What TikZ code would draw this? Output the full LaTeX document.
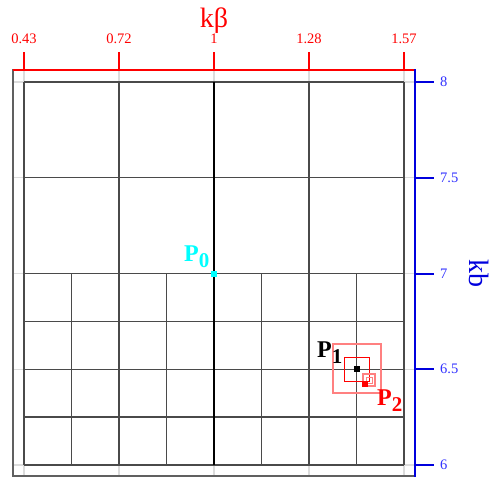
\documentclass[tikz,border=0pt]{standalone}
\usepackage{fontspec}
\setmainfont{Liberation Serif}
\definecolor{gridlight}{HTML}{DCDCDC}
\definecolor{cellline}{HTML}{4A4A4A}
\definecolor{framegrey}{HTML}{606060}
\definecolor{axred}{HTML}{FF0000}
\definecolor{axblue}{HTML}{0000DD}
\definecolor{tickblue}{HTML}{3030FF}
\definecolor{pinkbox}{HTML}{FF8080}
\definecolor{aqua}{RGB}{0,255,255}
\tikzset{
  lightgrid/.style={gridlight, line width=1.2pt},
  cell/.style={cellline, line width=1.4pt},
  redaxis/.style={axred, line width=2pt},
  blueaxis/.style={axblue, line width=2pt},
  redlbl/.style={text=axred, font=\fontsize{14.5}{14.5}\selectfont, inner sep=0pt, anchor=base},
  bluelbl/.style={text=tickblue, font=\fontsize{14.5}{14.5}\selectfont, inner sep=0pt, anchor=west},
  ptlbl/.style={font=\fontsize{24}{24}\selectfont\bfseries, inner sep=0pt, anchor=base west},
  pt/.style={minimum size=6pt, inner sep=0pt, draw=none}
}
\newcommand{\plabel}[1]{P\raisebox{-6pt}{\fontsize{21}{21}\selectfont #1}}
\begin{document}
\begin{tikzpicture}[x=1pt,y=-1pt]
\useasboundingbox (0,0) rectangle (496,483);
% light gridlines at the ticks
\foreach \x in {24,119,214,309,404} \draw[lightgrid] (\x,70) -- (\x,476);
\foreach \y in {82,177.75,273.5,369.25,465} \draw[lightgrid] (13,\y) -- (415,\y);
% frame
\draw[framegrey, line width=1.5pt] (13,70) rectangle (415,476);
% cells
\foreach \y in {82,177.75,273.5,321.375,369.25,417.125,465} \draw[cell] (24,\y) -- (404,\y);
\foreach \x in {24,119,309,404} \draw[cell] (\x,82) -- (\x,465);
\foreach \x in {71.5,166.5,261.5,356.5} \draw[cell] (\x,273.5) -- (\x,465);
\draw[black, line width=1.1pt] (214,82) -- (214,465);
% top axis
\draw[redaxis] (13,70) -- (416,70);
\foreach \x/\l [count=\i] in {24/0.43,119/0.72,214/1,309/1.28,404/1.57} {
  \draw[redaxis] (\x,70) -- (\x,52);
  \node[redlbl] (tl\i) at (\x,43) {\l};
}
\node[text=axred, font=\fontsize{28}{28}\selectfont, inner sep=0pt, anchor=base] (xtitle) at (214,27) {kβ};
% right axis
\draw[blueaxis] (415,69) -- (415,477);
\foreach \y/\l [count=\i] in {82/8,177.75/7.5,273.5/7,369.25/6.5,465/6} {
  \draw[blueaxis] (415,\y) -- (434,\y);
  \node[bluelbl] (rl\i) at (440,\y) {\l};
}
\node[text=axblue, font=\fontsize{28}{28}\selectfont, inner sep=0pt, rotate=-90] (ytitle) at (479,273) {kb};
% search boxes
\draw[pinkbox, line width=1.3pt] (333,344) rectangle (381,393);
\draw[red, line width=0.9pt] (344,357) rectangle (369,381);
\draw[pinkbox, line width=1.1pt] (363,374) rectangle (375,386);
\draw[pinkbox, line width=0.8pt] (366,377) rectangle (372,383);
% points
\node[pt, fill=aqua] (p0) at (214,273.5) {};
\node[pt, fill=black] (p1) at (356.5,369.25) {};
\node[pt, fill=red] (p2) at (365,384) {};
\node[ptlbl, text=aqua] (p0l) at (184,261) {\plabel{0}};
\node[ptlbl, text=black] (p1l) at (317,357) {\plabel{1}};
\node[ptlbl, text=red] (p2l) at (377,405) {\plabel{2}};
\end{tikzpicture}
\end{document}
